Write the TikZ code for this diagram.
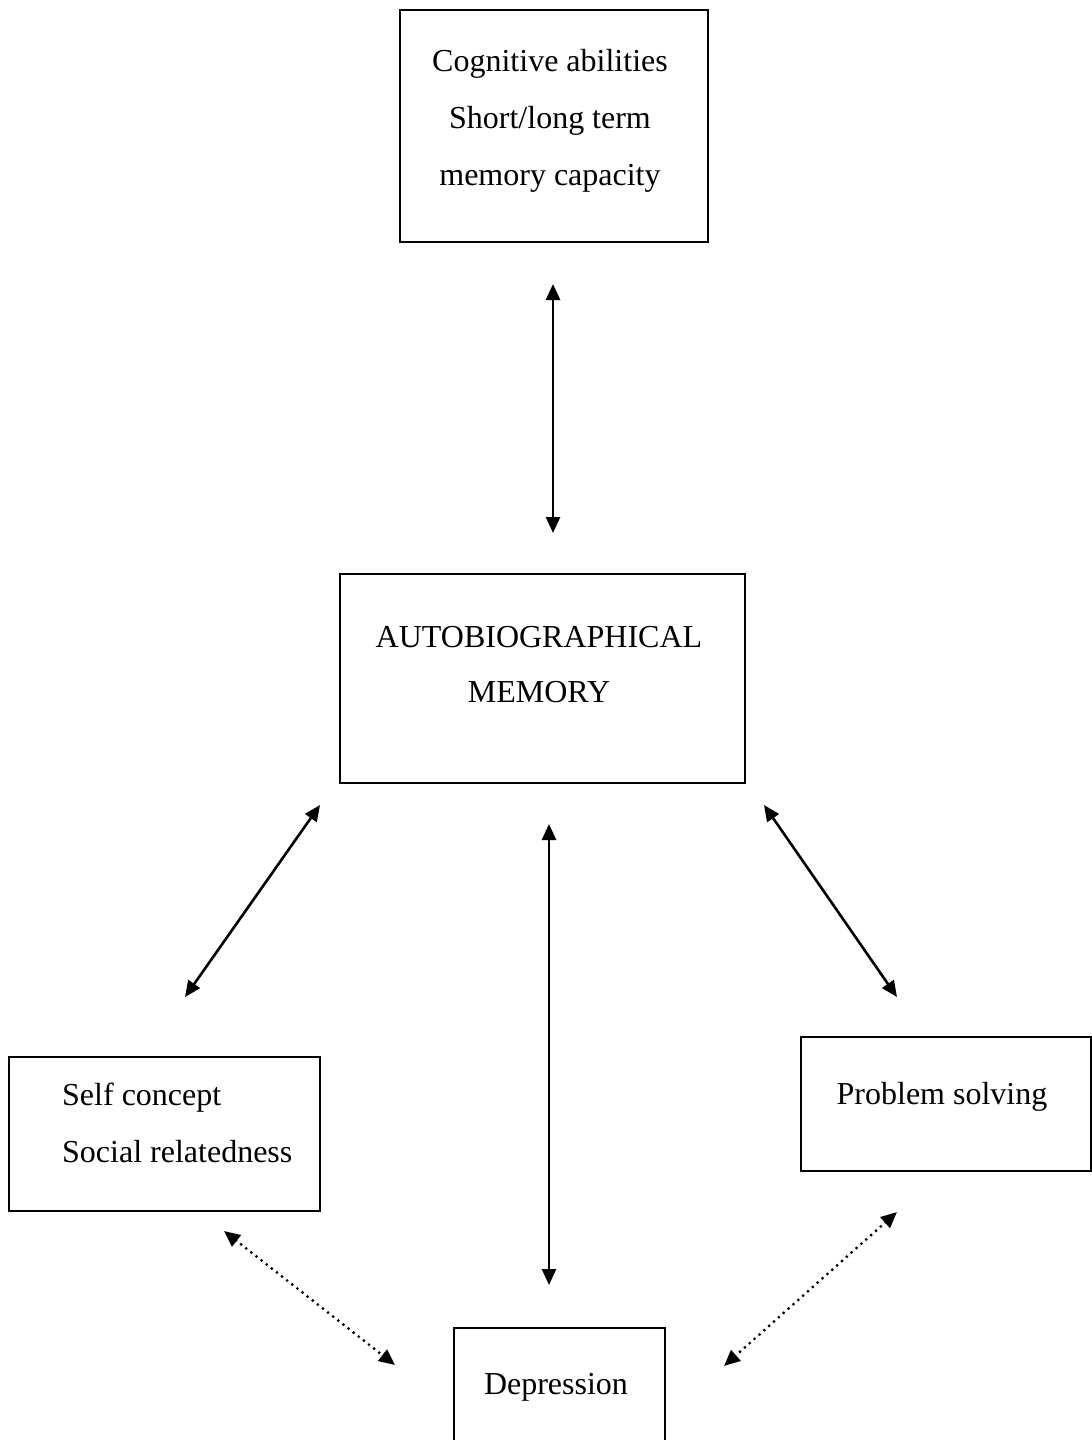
\documentclass[tikz,border=0pt]{standalone}
\usepackage{fontspec}
\setmainfont{Liberation Serif}
\usetikzlibrary{arrows.meta}
\begin{document}
\begin{tikzpicture}[
			x=1pt, y=-1pt,
			box/.style={rectangle, draw=black, line width=2pt, inner sep=0pt},
			lbl/.style={align=center, inner sep=0pt, font=\fontsize{32}{57}\selectfont},
			link/.style={{Triangle[length=16pt,width=14pt]}-{Triangle[length=16pt,width=14pt]}, line width=2.6pt},
			dotlink/.style={{Triangle[length=16pt,width=14pt]}-{Triangle[length=16pt,width=14pt]}, line width=3.2pt, line cap=round, dash pattern=on 0pt off 6.5pt},
			]
			\useasboundingbox (0,0) rectangle (1092,1440);
			\node[box, minimum width=308pt, minimum height=232pt] at (554,126) (cog) {};
			\node[lbl] at (550,121) (cogtext) {Cognitive abilities\\Short/long term\\memory capacity};
			\node[box, minimum width=405pt, minimum height=209pt] at (542.5,678.5) (amem) {};
			\node[lbl, font=\fontsize{32}{55}\selectfont] at (539,665) (amemtext) {AUTOBIOGRAPHICAL\\MEMORY};
			\node[box, minimum width=311pt, minimum height=154pt] at (164.5,1134) (self) {};
			\node[lbl, align=left, anchor=west] at (62,1123) (selftext) {Self concept\\Social relatedness};
			\node[box, minimum width=290pt, minimum height=134pt] at (946,1104) (prob) {};
			\node[lbl] at (942,1097) (probtext) {Problem solving};
			\node[box, minimum width=211pt, minimum height=150pt] at (559.5,1403) (dep) {};
			\node[lbl] at (556,1387) (deptext) {Depression};
			% arrow ends
			\coordinate (cogend) at (553,284);
			\coordinate (amemtop) at (553,533);
			\coordinate (amemleft) at (320,805);
			\coordinate (selfend) at (185,997);
			\coordinate (amemmid) at (549,824);
			\coordinate (depend) at (549,1285);
			\coordinate (amemright) at (764,805);
			\coordinate (probend) at (897,997);
			\coordinate (selfdot) at (224,1231);
			\coordinate (depleft) at (395,1365);
			\coordinate (probdot) at (897,1212);
			\coordinate (depright) at (724,1366);
			\draw[link] (cogend) -- (amemtop);
			\draw[link] (amemleft) -- (selfend);
			\draw[link] (amemmid) -- (depend);
			\draw[link] (amemright) -- (probend);
			\draw[dotlink] (selfdot) -- (depleft);
			\draw[dotlink] (probdot) -- (depright);
		\end{tikzpicture}
\end{document}
